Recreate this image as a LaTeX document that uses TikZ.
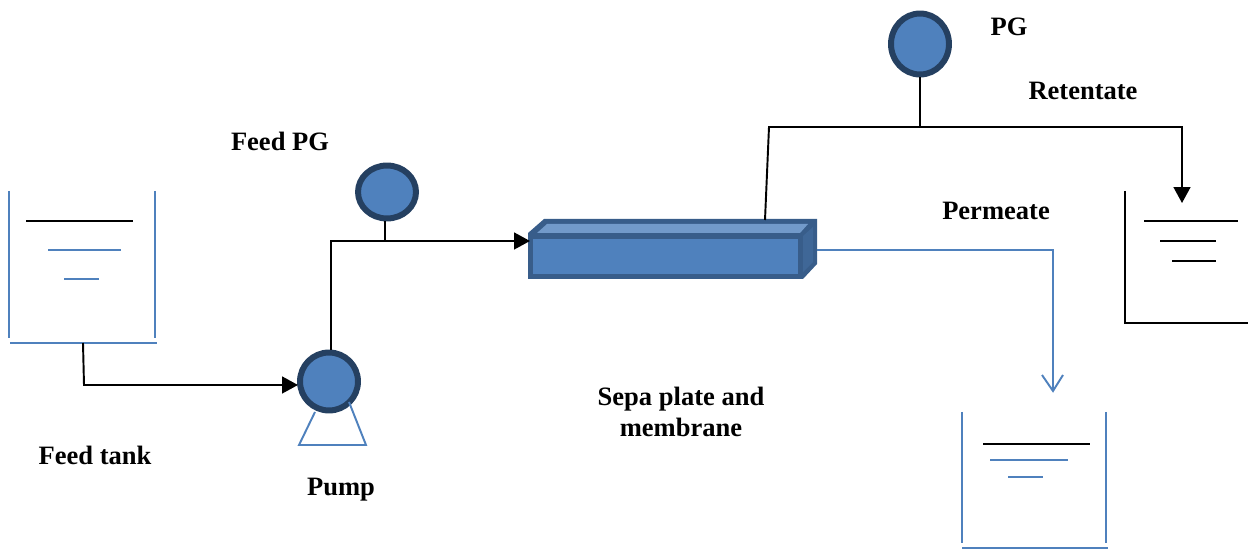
\documentclass[tikz,border=0pt]{standalone}
\usepackage{fontspec}
\setmainfont{Liberation Serif}
\usepackage{tikz}
\usetikzlibrary{arrows.meta,positioning,shapes.geometric}
\definecolor{sepablue}{HTML}{4F81BD}
\definecolor{sepaedge}{HTML}{385D8A}
\definecolor{sepatop}{HTML}{729ACA}
\definecolor{sepaside}{HTML}{3F6797}
\definecolor{gaugeedge}{HTML}{254061}
\tikzset{
    %Define style for gauges
    gauge/.style={
           ellipse,
           draw=gaugeedge,
           line width=3.4pt,
           fill=sepablue,
           inner sep=0pt,
           minimum width=1.16cm,
           minimum height=1.16cm,
           },
    %Define style for labels
    lbl/.style={
           font=\fontsize{15.1}{17.8}\selectfont\bfseries,
           align=center,
           inner sep=0pt,
           },
    % Define line styles
    pipe/.style={
           draw=black,
           line width=1.1pt,
           },
    bluepipe/.style={
           draw=sepablue,
           line width=1.1pt,
           },
    bigtip/.style={
           -{Triangle[length=9pt,width=9.5pt]},
           },
}
\begin{document}
\begin{tikzpicture}[x=0.02cm,y=-0.02cm]
\useasboundingbox (0,0) rectangle (1248,550);
% feed tank
\draw[bluepipe] (9,191) -- (9,338);
\draw[bluepipe] (155,191) -- (155,338);
\draw[bluepipe] (10,343) -- (157,343);
\draw[pipe] (26,221) -- (133,221);
\draw[bluepipe] (48,250) -- (121,250);
\draw[bluepipe] (64,279) -- (99,279);
% retentate tank
\draw[pipe] (1125,191) -- (1125,323) -- (1248,323);
\draw[pipe] (1144,221) -- (1238,221);
\draw[pipe] (1160,241) -- (1216,241);
\draw[pipe] (1172,261) -- (1216,261);
% permeate tank
\draw[bluepipe] (962,412) -- (962,543);
\draw[bluepipe] (1106,412) -- (1106,543);
\draw[bluepipe] (962,548) -- (1108,548);
\draw[pipe] (983,444) -- (1090,444);
\draw[bluepipe] (990,460) -- (1068,460);
\draw[bluepipe] (1008,477) -- (1043,477);
% sepa plate
\fill[sepaedge] (528,233) -- (544,219) -- (817,219) -- (817,264) -- (803,279) -- (528,279) -- cycle;
\node[draw=sepaedge,line width=0.1cm,fill=sepablue,inner sep=0pt,minimum width=5.4cm,minimum height=0.82cm] (sepa) at (665.5,256.5) {};
\fill[sepatop] (537,233) -- (547,224) -- (808,224) -- (800,233) -- cycle;
\fill[sepaside] (803,236) -- (813,227) -- (813,262) -- (803,272) -- cycle;
% gauges and pump
\node[gauge] (pump) at (329,381.5) {};
\node[gauge,minimum height=1.06cm] (feedpg) at (387,192) {};
\node[gauge,minimum height=1.22cm] (pg) at (920,44) {};
\coordinate (pumpl) at (315,412);
\coordinate (pumpr) at (349,402);
\coordinate (pumpbl) at (299,445);
\coordinate (pumpbr) at (366,445);
\draw[bluepipe] (pumpl) -- (pumpbl) -- (pumpbr) -- (pumpr);
% connectors
\coordinate (tankout) at (83,343);
\coordinate (tankelbow) at (84,385);
\coordinate (pumpin) at (298,385);
\draw[pipe,bigtip] (tankout) -- (tankelbow) -- (pumpin);
\coordinate (feedelbow) at (331,241);
\coordinate (sepain) at (530,241);
\coordinate (feedjoin) at (385,241);
\draw[pipe,bigtip] (pump.north -| feedelbow) -- (feedelbow) -- (sepain);
\draw[pipe] (feedpg.south -| feedjoin) -- (feedjoin);
\coordinate (retl) at (769,127);
\coordinate (retr) at (1182,127);
\coordinate (retout) at (765,220);
\coordinate (retin) at (1182,203);
\draw[pipe,bigtip] (retout) -- (retl) -- (retr) -- (retin);
\draw[pipe] (pg.south) -- (pg.south |- retl);
\coordinate (permout) at (817,250);
\coordinate (permr) at (1053,250);
\coordinate (permin) at (1053,391);
\coordinate (permtipl) at (1042,375);
\coordinate (permtipr) at (1063,375);
\draw[bluepipe] (permout) -- (permr) -- (permin);
\draw[bluepipe] (permtipl) -- (permin) -- (permtipr);
% labels
\node[lbl] (pglabel) at (1009,27) {PG};
\node[lbl] (retlabel) at (1083,91) {Retentate};
\node[lbl] (feedpglabel) at (280,141) {Feed PG};
\node[lbl] (permlabel) at (996,211) {Permeate};
\node[lbl] (sepalabel) at (681,412) {Sepa plate and\\membrane};
\node[lbl] (tanklabel) at (95,455) {Feed tank};
\node[lbl] (pumplabel) at (341,490) {Pump};
\end{tikzpicture}
\end{document}
